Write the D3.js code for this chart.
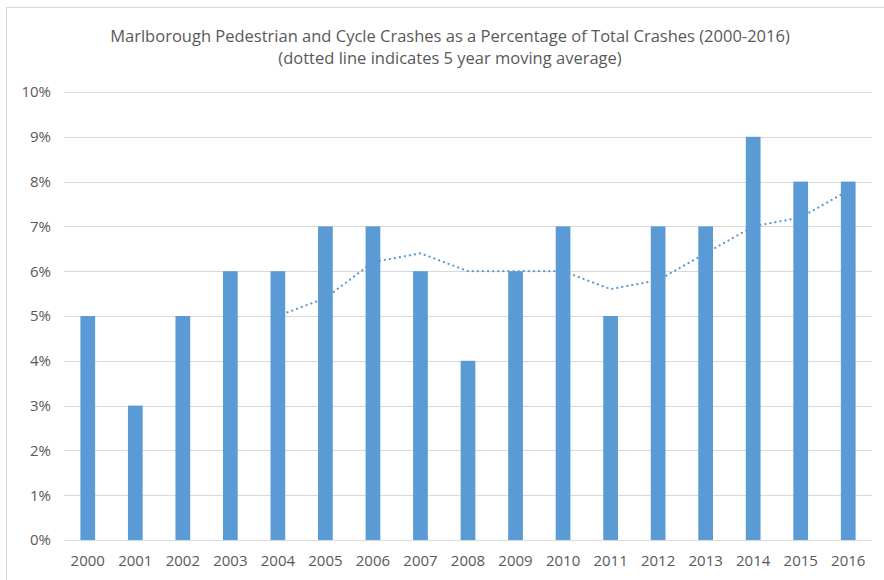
<!DOCTYPE html>
<html>
<head>
<meta charset="utf-8">
<script src="https://cdn.jsdelivr.net/npm/d3@7"></script>
<style>
  body { margin: 0; background: #fff; }
  text { font-family: "Liberation Sans Narrow", "Open Sans", sans-serif; fill: #595959; }
</style>
</head>
<body>
<div id="chart"></div>
<script>
// chart values
var years = ["2000","2001","2002","2003","2004","2005","2006","2007","2008",
             "2009","2010","2011","2012","2013","2014","2015","2016"];
var shares = [5, 3, 5, 6, 6, 7, 7, 6, 4, 6, 7, 5, 7, 7, 9, 8, 8];
// 5 year moving average, starts at 2004
var avgYears = ["2004","2005","2006","2007","2008","2009","2010","2011","2012","2013","2014","2015","2016"];
var avgValues = [5.0, 5.4, 6.2, 6.4, 6.0, 6.0, 6.0, 5.6, 5.8, 6.4, 7.0, 7.2, 7.8];
var yTicks = [0, 1, 2, 3, 4, 5, 6, 7, 8, 9, 10];
var titleLines = ["Marlborough Pedestrian and Cycle Crashes as a Percentage of Total Crashes (2000-2016)",
                  "(dotted line indicates 5 year moving average)"];

var svgWidth = 884, svgHeight = 580;
var margin = { top: 92, right: 12, bottom: 40, left: 64 };
var w = svgWidth - margin.left - margin.right;
var h = svgHeight - margin.top - margin.bottom;
var blue = "#5b9bd5";

var svg = d3.select("#chart").append("svg")
  .attr("width", svgWidth)
  .attr("height", svgHeight);

// outer chart frame
svg.append("rect")
  .attr("x", 6.5).attr("y", 7.5)
  .attr("width", 900).attr("height", 600)
  .attr("fill", "none")
  .attr("stroke", "#d9d9d9");

svg.selectAll(".title")
  .data(titleLines)
  .enter()
  .append("text")
  .attr("x", 450)
  .attr("y", (d, i) => 42 + i * 22)
  .attr("text-anchor", "middle")
  .style("font-size", "16.5px")
  .text(d => d);

var g = svg.append("g")
  .attr("transform", `translate(${margin.left}, ${margin.top})`);

var x = d3.scaleBand().domain(years).range([0, w]).paddingInner(0.69).paddingOuter(0.345);
var y = d3.scaleLinear().domain([0, 10]).range([h, 0]);

// gridlines
g.selectAll(".grid")
  .data(yTicks)
  .enter()
  .append("line")
  .attr("x1", 0).attr("x2", w)
  .attr("y1", d => Math.round(y(d)) + 0.5)
  .attr("y2", d => Math.round(y(d)) + 0.5)
  .attr("stroke", "#d9d9d9")
  .attr("stroke-width", 1);

var leftAxis = d3.axisLeft(y).tickValues(yTicks).tickSize(0).tickPadding(13)
  .tickFormat(d => d + "%");
g.append("g")
  .call(leftAxis)
  .call(a => a.select(".domain").remove())
  .selectAll("text")
  .style("font-size", "15px");

var bottomAxis = d3.axisBottom(x).tickSize(0).tickPadding(15);
g.append("g")
  .attr("transform", `translate(0, ${h})`)
  .call(bottomAxis)
  .call(a => a.select(".domain").remove())
  .selectAll("text")
  .style("font-size", "15px");

g.selectAll(".bar")
  .data(shares)
  .enter()
  .append("rect")
  .attr("x", (d, i) => x(years[i]))
  .attr("y", d => y(d))
  .attr("width", x.bandwidth())
  .attr("height", d => h - y(d))
  .attr("fill", blue);

var line = d3.line()
  .x((d, i) => x(avgYears[i]) + x.bandwidth() / 2)
  .y(d => y(d));

g.append("path")
  .datum(avgValues)
  .attr("d", line)
  .attr("fill", "none")
  .attr("stroke", blue)
  .attr("stroke-width", 2.2)
  .attr("stroke-linecap", "round")
  .attr("stroke-dasharray", "0.1 5");
</script>
</body>
</html>
